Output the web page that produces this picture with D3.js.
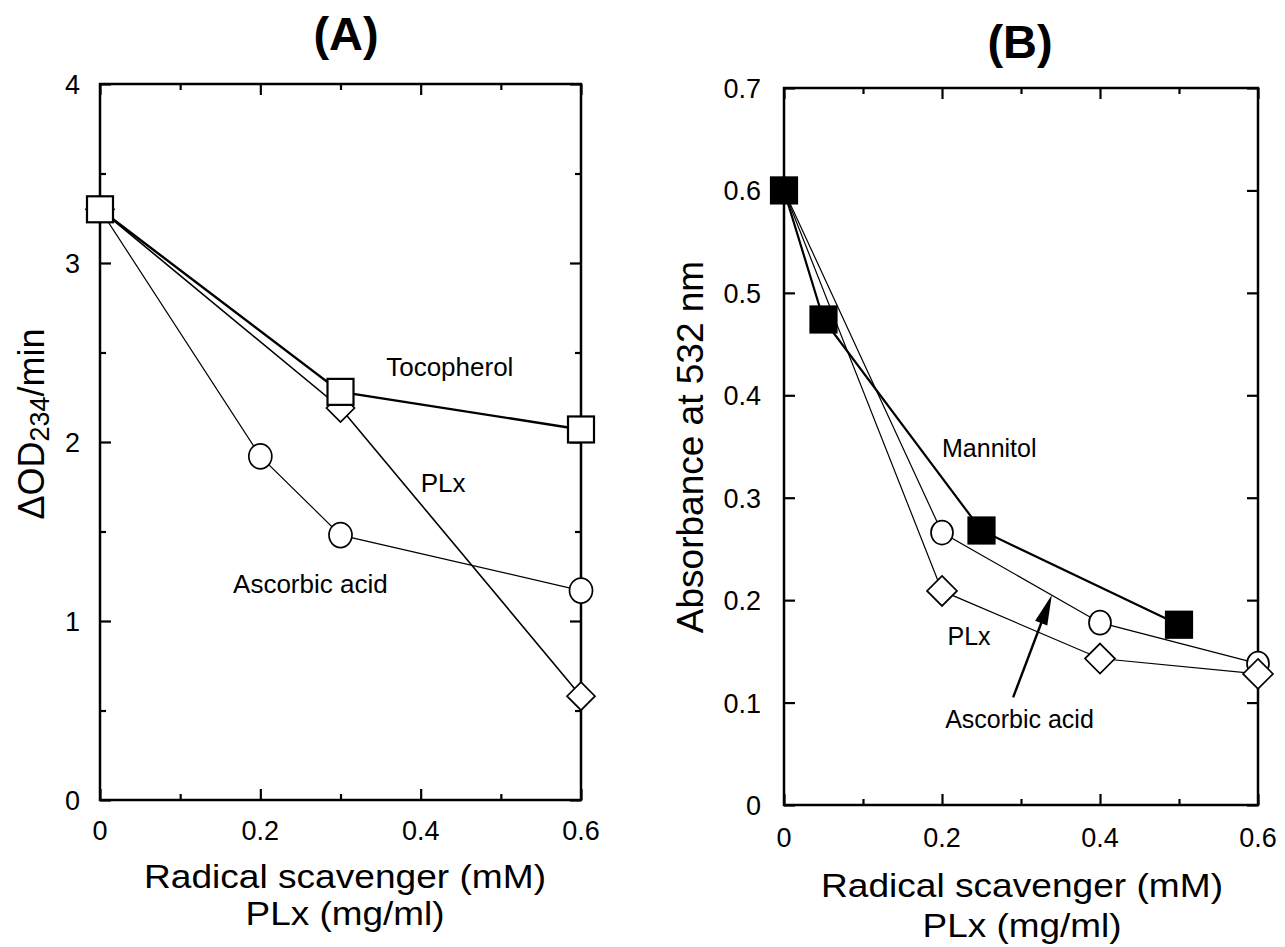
<!DOCTYPE html>
<html><head><meta charset="utf-8">
<script src="https://cdn.jsdelivr.net/npm/d3@7"></script>
<style>
html,body{margin:0;padding:0;background:#fff;}
svg{display:block;font-family:"Liberation Sans",Arial,Helvetica,sans-serif;}
</style></head>
<body>
<svg id="chart" width="1285" height="947"></svg>
<script>
// ---------- Panel A data ----------
const xA_toco = [0, 0.3, 0.6];
const yA_toco = [3.3, 2.28, 2.07];
const xA_plx = [0, 0.3, 0.6];
const yA_plx = [3.3, 2.19, 0.58];
const xA_asc = [0, 0.2, 0.3, 0.6];
const yA_asc = [3.3, 1.92, 1.48, 1.17];
const xTicksA = [0, 0.2, 0.4, 0.6];
const xTickLabelsA = ["0", "0.2", "0.4", "0.6"];
const xMinorA = [0.1, 0.3, 0.5];
const yTicksA = [0, 1, 2, 3, 4];
const yTickLabelsA = ["0", "1", "2", "3", "4"];
const yMinorA = [0.5, 1.5, 2.5, 3.5];
const labelsA = [
  {text: "Tocopherol", x: 0.357, y: 2.37},
  {text: "PLx", x: 0.40, y: 1.72},
  {text: "Ascorbic acid", x: 0.166, y: 1.155}
];
// ---------- Panel B data ----------
const xB_mann = [0, 0.05, 0.25, 0.5];
const yB_mann = [0.6, 0.474, 0.268, 0.176];
const xB_asc = [0, 0.2, 0.4, 0.6];
const yB_asc = [0.6, 0.266, 0.178, 0.138];
const xB_plx = [0, 0.2, 0.4, 0.6];
const yB_plx = [0.6, 0.209, 0.143, 0.128];
const xTicksB = [0, 0.2, 0.4, 0.6];
const xTickLabelsB = ["0", "0.2", "0.4", "0.6"];
const xMinorB = [0.1, 0.3, 0.5];
const yTicksB = [0, 0.1, 0.2, 0.3, 0.4, 0.5, 0.6, 0.7];
const yTickLabelsB = ["0", "0.1", "0.2", "0.3", "0.4", "0.5", "0.6", "0.7"];
const labelsB = [
  {text: "Mannitol", x: 0.20, y: 0.34},
  {text: "PLx", x: 0.207, y: 0.156},
  {text: "Ascorbic acid", x: 0.204, y: 0.075}
];
const arrowB = {x1: 0.29, y1: 0.105, x2: 0.339, y2: 0.205};

const svg = d3.select("#chart");

function zip(xs, ys){ return xs.map((x,i)=>({x:x, y:ys[i]})); }

function panel(cfg){
  const g = svg.append("g");
  const x = d3.scaleLinear().domain(cfg.xdom).range([cfg.left, cfg.right]);
  const y = d3.scaleLinear().domain(cfg.ydom).range([cfg.bottom, cfg.top]);
  const W = cfg.right - cfg.left, H = cfg.bottom - cfg.top;
  const MAJ = 11, MIN = 6;
  function ax(gen, vals, size, tr){
    const a = g.append("g").attr("transform", tr)
      .call(gen.tickValues(vals).tickSize(size).tickFormat(""));
    a.select(".domain").remove();
    a.selectAll(".tick line").attr("stroke","#000").attr("stroke-width",2.2);
  }
  ax(d3.axisBottom(x), cfg.xMajor, -MAJ, `translate(0,${cfg.bottom})`);
  ax(d3.axisBottom(x), cfg.xMinor, -MIN, `translate(0,${cfg.bottom})`);
  ax(d3.axisTop(x), cfg.xMajor, -MAJ, `translate(0,${cfg.top})`);
  ax(d3.axisTop(x), cfg.xMinor, -MIN, `translate(0,${cfg.top})`);
  ax(d3.axisLeft(y), cfg.yMajor, -MAJ, `translate(${cfg.left},0)`);
  ax(d3.axisRight(y), cfg.yMajor, -MAJ, `translate(${cfg.right},0)`);
  if (cfg.yMinor.length){
    ax(d3.axisLeft(y), cfg.yMinor, -MIN, `translate(${cfg.left},0)`);
    ax(d3.axisRight(y), cfg.yMinor, -MIN, `translate(${cfg.right},0)`);
  }
  g.append("rect").attr("x",cfg.left).attr("y",cfg.top).attr("width",W).attr("height",H)
    .attr("fill","none").attr("stroke","#000").attr("stroke-width",2.5);
  g.selectAll(".xl").data(cfg.xMajor).enter().append("text")
    .attr("x", d=>x(d)).attr("y", cfg.bottom + cfg.xLabDy)
    .attr("text-anchor","middle").attr("font-size",27)
    .text((d,i)=>cfg.xLabels[i]);
  g.selectAll(".yl").data(cfg.yMajor).enter().append("text")
    .attr("x", cfg.left - cfg.yLabGap).attr("y", d=>y(d)+10)
    .attr("text-anchor","end").attr("font-size",27)
    .text((d,i)=>cfg.yLabels[i]);
  return {g, x, y};
}

function series(p, xs, ys, lw){
  const pts = zip(xs, ys);
  p.g.append("path").datum(pts)
    .attr("d", d3.line().x(d=>p.x(d.x)).y(d=>p.y(d.y)))
    .attr("fill","none").attr("stroke","#000").attr("stroke-width",lw);
  return pts;
}
function diamonds(p, pts, half){
  p.g.selectAll(null).data(pts).enter().append("path")
    .attr("d", `M0,${-half} L${half},0 L0,${half} L${-half},0 Z`)
    .attr("transform", d=>`translate(${p.x(d.x)},${p.y(d.y)})`)
    .attr("fill","#fff").attr("stroke","#000").attr("stroke-width",1.7);
}
function squares(p, pts, s, fill){
  p.g.selectAll(null).data(pts).enter().append("rect")
    .attr("x", d=>p.x(d.x)-s/2).attr("y", d=>p.y(d.y)-s/2)
    .attr("width", s).attr("height", s)
    .attr("fill", fill).attr("stroke","#000").attr("stroke-width",2.2);
}
function circles(p, pts, r){
  p.g.selectAll(null).data(pts).enter().append("ellipse")
    .attr("cx", d=>p.x(d.x)).attr("cy", d=>p.y(d.y)).attr("rx", r).attr("ry", r+1)
    .attr("fill","#fff").attr("stroke","#000").attr("stroke-width",1.7);
}

// ---------- Panel A ----------
const A = panel({xdom:[0,0.6], ydom:[0,4], left:100, right:581, top:84, bottom:800,
  xMajor:xTicksA, xMinor:xMinorA, yMajor:yTicksA, yMinor:yMinorA,
  xLabels:xTickLabelsA, yLabels:yTickLabelsA, xLabDy:40, yLabGap:20});
const pA_asc = series(A, xA_asc, yA_asc, 1.2);
const pA_plx = series(A, xA_plx, yA_plx, 1.6);
const pA_toco = series(A, xA_toco, yA_toco, 2.4);
circles(A, pA_asc, 11.5);
diamonds(A, pA_plx, 14);
squares(A, pA_toco, 26, "#fff");
A.g.selectAll(".lab").data(labelsA).enter().append("text")
  .attr("x", d=>A.x(d.x)).attr("y", d=>A.y(d.y)).attr("font-size",26)
  .text(d=>d.text);

// ---------- Panel B ----------
const B = panel({xdom:[0,0.6], ydom:[0,0.7], left:784, right:1258, top:88, bottom:805,
  xMajor:xTicksB, xMinor:xMinorB, yMajor:yTicksB, yMinor:[],
  xLabels:xTickLabelsB, yLabels:yTickLabelsB, xLabDy:42, yLabGap:23});
const pB_plx = series(B, xB_plx, yB_plx, 1.2);
const pB_asc = series(B, xB_asc, yB_asc, 1.2);
const pB_mann = series(B, xB_mann, yB_mann, 2.2);
circles(B, pB_asc.slice(1), 11);
diamonds(B, pB_plx.slice(1), 15);
squares(B, pB_mann, 26, "#000");
B.g.selectAll(".lab").data(labelsB).enter().append("text")
  .attr("x", d=>B.x(d.x)).attr("y", d=>B.y(d.y)).attr("font-size",25)
  .text(d=>d.text);
// arrow (shaft + filled head), positioned through the scales
{
  const x1 = B.x(arrowB.x1), y1 = B.y(arrowB.y1), x2 = B.x(arrowB.x2), y2 = B.y(arrowB.y2);
  const ang = Math.atan2(y2 - y1, x2 - x1) * 180 / Math.PI;
  const len = Math.hypot(x2 - x1, y2 - y1);
  const ga = B.g.append("g").attr("transform", `translate(${x1},${y1}) rotate(${ang})`);
  ga.append("line").attr("x1",0).attr("y1",0).attr("x2",len-20).attr("y2",0)
    .attr("stroke","#000").attr("stroke-width",2.4);
  ga.append("path").attr("d", `M${len},0 L${len-30},-6.5 L${len-30},6.5 Z`).attr("fill","#000");
}

// ---------- titles ----------
svg.append("text").attr("x",346).attr("y",50).attr("text-anchor","middle")
  .attr("font-size",47).attr("font-weight","bold").text("(A)");
svg.append("text").attr("x",1020).attr("y",58).attr("text-anchor","middle")
  .attr("font-size",47).attr("font-weight","bold").text("(B)");

// x axis titles
[[345, 888, 925],[1022, 897, 937]].forEach(([cx,y1,y2])=>{
  svg.append("text").attr("x",cx).attr("y",y1).attr("text-anchor","middle")
    .attr("font-size",33).attr("textLength",402).attr("lengthAdjust","spacingAndGlyphs")
    .text("Radical scavenger (mM)");
  svg.append("text").attr("x",cx).attr("y",y2).attr("text-anchor","middle")
    .attr("font-size",33).attr("textLength",199).attr("lengthAdjust","spacingAndGlyphs")
    .text("PLx (mg/ml)");
});

// y axis titles
const ytA = svg.append("text").attr("transform","translate(44,424) rotate(-90)")
  .attr("text-anchor","middle").attr("font-size",36);
ytA.append("tspan").text("\u0394OD");
ytA.append("tspan").attr("font-size",27).attr("dy",5).text("234");
ytA.append("tspan").attr("dy",-5).text("/min");
svg.append("text").attr("transform","translate(703,447) rotate(-90)")
  .attr("text-anchor","middle").attr("font-size",37).text("Absorbance at 532 nm");
</script>
</body></html>
